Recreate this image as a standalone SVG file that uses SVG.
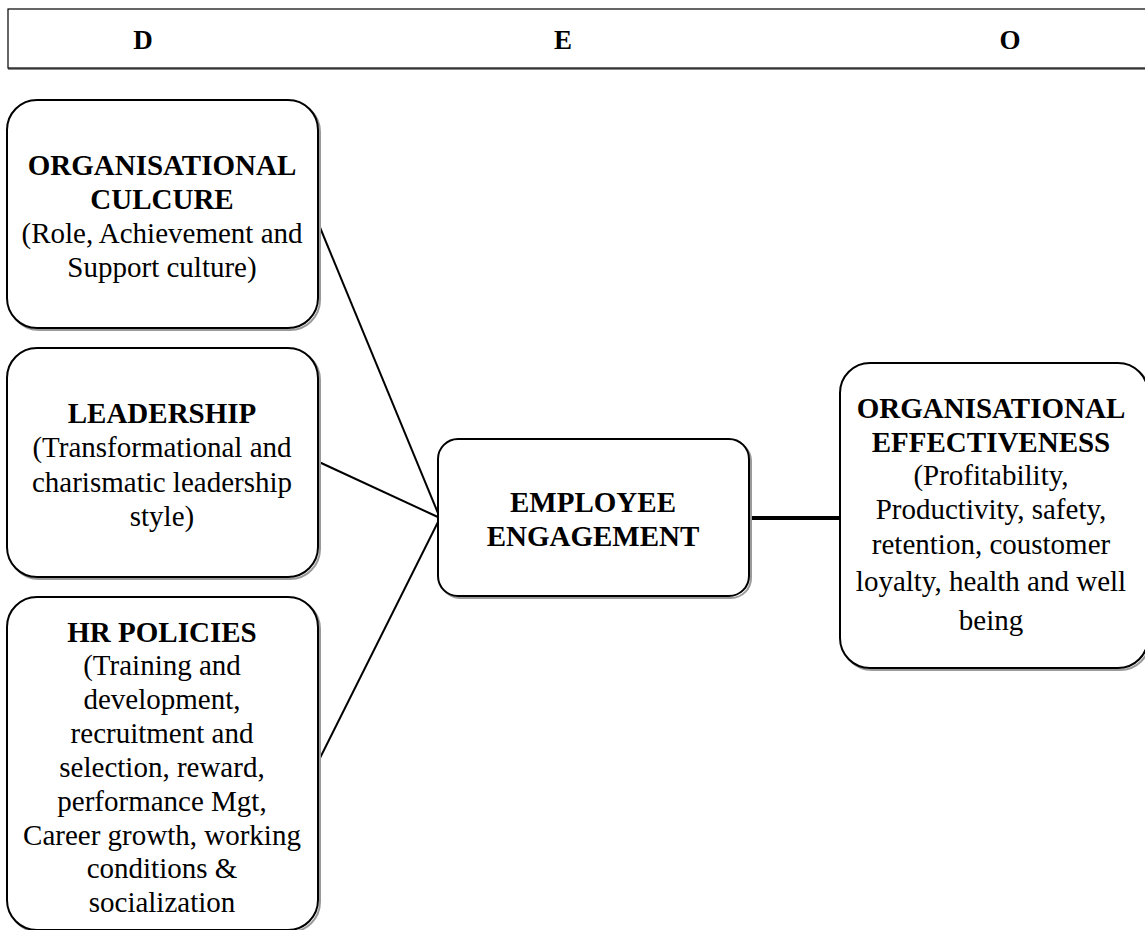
<svg xmlns="http://www.w3.org/2000/svg" width="1145" height="930" viewBox="0 0 1145 930">
<style>
.box{fill:#fff;stroke:#000;stroke-width:2}
.sh{fill:none;stroke:#9a9a9a;stroke-width:2}
.t{font-family:"Liberation Serif","Times New Roman",serif;font-size:29px;fill:#000;text-anchor:middle}
.b{font-weight:bold}
.h{font-family:"Liberation Serif","Times New Roman",serif;font-size:27px;font-weight:bold;fill:#000;text-anchor:middle}
.c{stroke:#000;stroke-width:2;fill:none}
</style>
<rect width="1145" height="930" fill="#fff"/>
<g id="header">
<line x1="8" y1="69" x2="1145" y2="69" stroke="#888" stroke-width="2"/>
<rect x="8" y="9" width="1150" height="59" fill="#fff" stroke="#000" stroke-width="1.2"/>
<text class="h" x="143" y="49">D</text>
<text class="h" x="563" y="49">E</text>
<text class="h" x="1010" y="49">O</text>
</g>
<g id="connectors">
<line class="c" x1="319" y1="225" x2="440" y2="518"/>
<line class="c" x1="319" y1="462" x2="440" y2="518"/>
<line class="c" x1="319" y1="760" x2="440" y2="518"/>
<line x1="749" y1="518" x2="842" y2="518" stroke="#000" stroke-width="4"/>
</g>
<g id="culture">
<rect class="sh" x="9" y="102" width="311" height="228" rx="30"/>
<rect class="box" x="7" y="100" width="311" height="228" rx="30"/>
<text class="t b" x="162" y="175">ORGANISATIONAL</text>
<text class="t b" x="162" y="209">CULCURE</text>
<text class="t" x="162" y="243">(Role, Achievement and</text>
<text class="t" x="162" y="277">Support culture)</text>
</g>
<g id="leadership">
<rect class="sh" x="9" y="350" width="311" height="229" rx="30"/>
<rect class="box" x="7" y="348" width="311" height="229" rx="30"/>
<text class="t b" x="162" y="423">LEADERSHIP</text>
<text class="t" x="162" y="457">(Transformational and</text>
<text class="t" x="162" y="492">charismatic leadership</text>
<text class="t" x="162" y="526">style)</text>
</g>
<g id="hr">
<rect class="sh" x="9" y="599" width="311" height="333" rx="30"/>
<rect class="box" x="7" y="597" width="311" height="333" rx="30"/>
<text class="t b" x="162" y="642">HR POLICIES</text>
<text class="t" x="162" y="675">(Training and</text>
<text class="t" x="162" y="709">development,</text>
<text class="t" x="162" y="743">recruitment and</text>
<text class="t" x="162" y="777">selection, reward,</text>
<text class="t" x="162" y="811">performance Mgt,</text>
<text class="t" x="162" y="845">Career growth, working</text>
<text class="t" x="162" y="878">conditions &amp;</text>
<text class="t" x="162" y="912">socialization</text>
</g>
<g id="engagement">
<rect class="sh" x="440" y="441" width="311" height="157" rx="20"/>
<rect class="box" x="438" y="439" width="311" height="157" rx="20"/>
<text class="t b" x="593" y="512">EMPLOYEE</text>
<text class="t b" x="593" y="546">ENGAGEMENT</text>
</g>
<g id="effectiveness">
<rect class="sh" x="842" y="365" width="308" height="305" rx="30"/>
<rect class="box" x="840" y="363" width="308" height="305" rx="30"/>
<text class="t b" x="991" y="418">ORGANISATIONAL</text>
<text class="t b" x="991" y="452">EFFECTIVENESS</text>
<text class="t" x="991" y="485">(Profitability,</text>
<text class="t" x="991" y="519">Productivity, safety,</text>
<text class="t" x="991" y="554">retention, coustomer</text>
<text class="t" x="991" y="591">loyalty, health and well</text>
<text class="t" x="991" y="630">being</text>
</g>
</svg>
